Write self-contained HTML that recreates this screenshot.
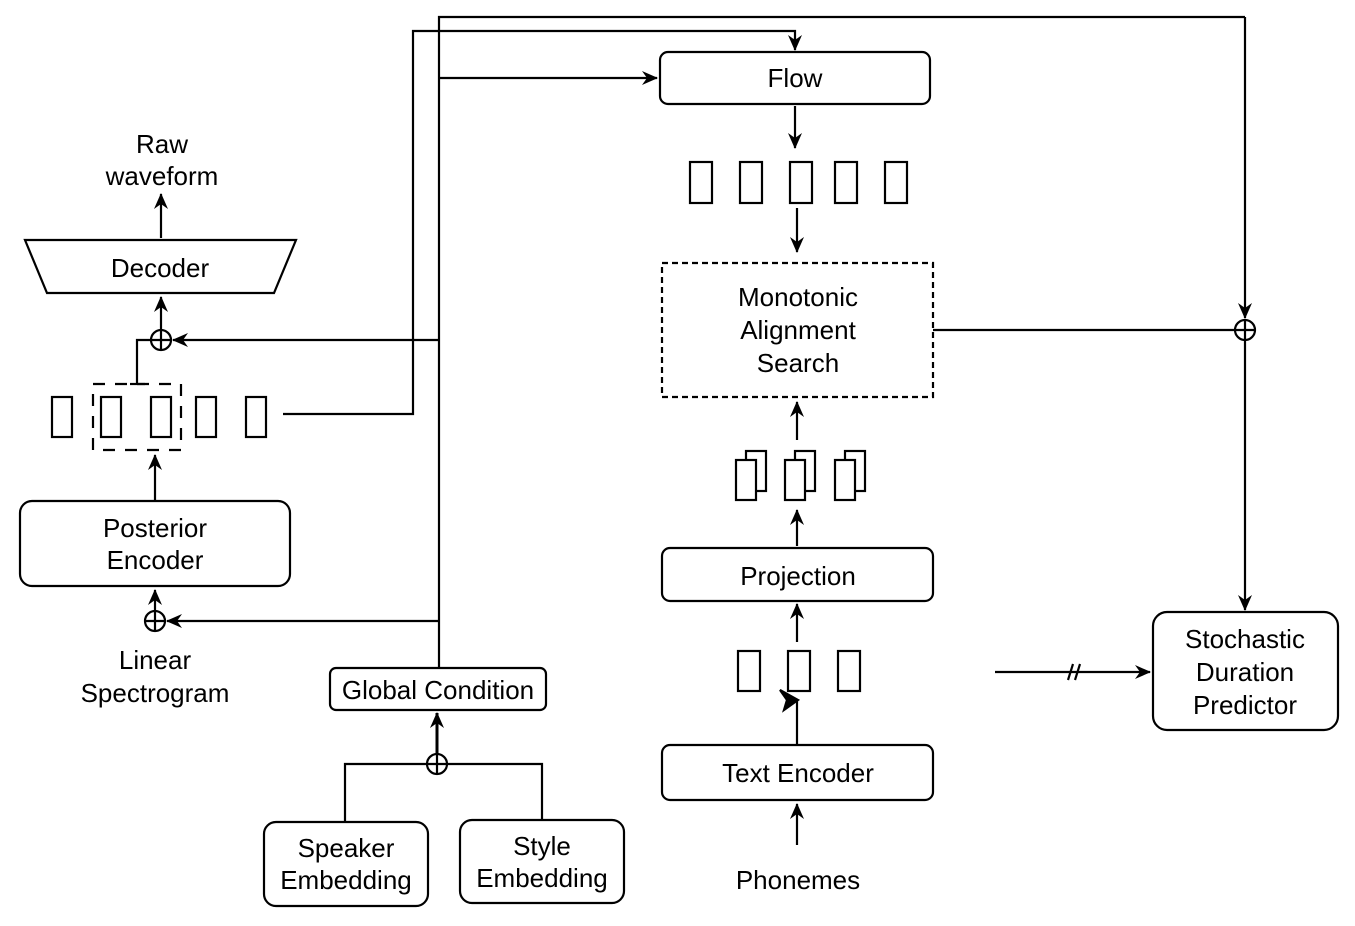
<!DOCTYPE html>
<html><head><style>
body{margin:0;background:#fff;}
svg text{font-family:"Liberation Sans",Arial,sans-serif;font-size:26px;fill:#000;text-anchor:middle;}
</style></head><body>
<svg width="1355" height="921" viewBox="0 0 1355 921" xmlns="http://www.w3.org/2000/svg">
<defs>
<marker id="a" markerWidth="18" markerHeight="16" refX="15" refY="7" orient="auto" markerUnits="userSpaceOnUse">
<path d="M0,0 L16,7 L0,14 L5,7 Z" fill="#000"/>
</marker>
</defs>
<g stroke="#000" stroke-width="2.2" fill="none">
<rect x="660" y="52" width="270" height="52" rx="8"/>
<line x1="795" y1="106" x2="795" y2="148" marker-end="url(#a)"/>
<g>
<rect x="690" y="162" width="22" height="41"/><rect x="740" y="162" width="22" height="41"/>
<rect x="790" y="162" width="22" height="41"/><rect x="835" y="162" width="22" height="41"/>
<rect x="885" y="162" width="22" height="41"/>
</g>
<line x1="797" y1="208" x2="797" y2="252" marker-end="url(#a)"/>
<rect x="662" y="263" width="271" height="134" stroke-dasharray="6,4"/>
<line x1="797" y1="440" x2="797" y2="402" marker-end="url(#a)"/>
<rect x="746" y="451" width="20" height="40" fill="#fff"/><rect x="736" y="460" width="20" height="40" fill="#fff"/>
<rect x="795" y="451" width="20" height="40" fill="#fff"/><rect x="785" y="460" width="20" height="40" fill="#fff"/>
<rect x="845" y="451" width="20" height="40" fill="#fff"/><rect x="835" y="460" width="20" height="40" fill="#fff"/>
<line x1="797" y1="546" x2="797" y2="510" marker-end="url(#a)"/>
<rect x="662" y="548" width="271" height="53" rx="8"/>
<line x1="797" y1="642" x2="797" y2="604" marker-end="url(#a)"/>
<rect x="738" y="651" width="22" height="40"/><rect x="788" y="651" width="22" height="40"/><rect x="838" y="651" width="22" height="40"/>
<line x1="797" y1="744" x2="797" y2="700"/>
<path d="M780,690 L798,700 L784,710 L787,700 Z" fill="#000"/>
<rect x="662" y="745" width="271" height="55" rx="8"/>
<line x1="797" y1="845" x2="797" y2="804" marker-end="url(#a)"/>
<line x1="933" y1="330" x2="1235" y2="330"/>
<circle cx="1245" cy="330" r="10"/>
<line x1="1235" y1="330" x2="1255" y2="330"/>
<line x1="1245" y1="17" x2="1245" y2="318" marker-end="url(#a)"/>
<line x1="1245" y1="320" x2="1245" y2="610" marker-end="url(#a)"/>
<rect x="1153" y="612" width="185" height="118" rx="14"/>
<line x1="995" y1="672" x2="1150" y2="672" marker-end="url(#a)"/>
<line x1="1068" y1="680" x2="1073" y2="664"/><line x1="1075" y1="680" x2="1080" y2="664"/>
<rect x="330" y="668" width="216" height="42" rx="6"/>
<polyline points="439,668 439,17 1245,17"/>
<line x1="439" y1="78" x2="657" y2="78" marker-end="url(#a)"/>
<line x1="439" y1="340" x2="173" y2="340" marker-end="url(#a)"/>
<line x1="439" y1="621" x2="167" y2="621" marker-end="url(#a)"/>
<polyline points="283,414 413,414 413,31 795,31 795,40"/>
<line x1="795" y1="38" x2="795" y2="50" marker-end="url(#a)"/>
<circle cx="437" cy="764" r="10"/>
<line x1="427" y1="764" x2="447" y2="764"/><line x1="437" y1="754" x2="437" y2="774"/>
<polyline points="345,822 345,764 427,764"/>
<polyline points="542,820 542,764 447,764"/>
<line x1="437" y1="754" x2="437" y2="713" stroke-width="3" marker-end="url(#a)"/>
<rect x="264" y="822" width="164" height="84" rx="12"/>
<rect x="460" y="820" width="164" height="83" rx="12"/>
<line x1="161" y1="238" x2="161" y2="194" marker-end="url(#a)"/>
<polygon points="25,240 296,240 274,293 47,293"/>
<line x1="161" y1="330" x2="161" y2="297" marker-end="url(#a)"/>
<circle cx="161" cy="340" r="10"/>
<line x1="151" y1="340" x2="171" y2="340"/><line x1="161" y1="330" x2="161" y2="350"/>
<polyline points="151,340 137,340 137,384"/>
<line x1="130" y1="384" x2="145" y2="384"/>
<rect x="93" y="384" width="88" height="66" stroke-dasharray="12,10"/>
<rect x="52" y="397" width="20" height="40"/><rect x="101" y="397" width="20" height="40"/>
<rect x="151" y="397" width="20" height="40"/><rect x="196" y="397" width="20" height="40"/>
<rect x="246" y="397" width="20" height="40"/>
<line x1="155" y1="500" x2="155" y2="455" marker-end="url(#a)"/>
<rect x="20" y="501" width="270" height="85" rx="12"/>
<circle cx="155" cy="621" r="10"/>
<line x1="145" y1="621" x2="165" y2="621"/><line x1="155" y1="611" x2="155" y2="631"/>
<line x1="155" y1="611" x2="155" y2="590" marker-end="url(#a)"/>
</g>
<text x="795" y="87">Flow</text>
<text x="798" y="306">Monotonic</text>
<text x="798" y="339">Alignment</text>
<text x="798" y="372">Search</text>
<text x="798" y="585">Projection</text>
<text x="798" y="782">Text Encoder</text>
<text x="798" y="889">Phonemes</text>
<text x="1245" y="648">Stochastic</text>
<text x="1245" y="681">Duration</text>
<text x="1245" y="714">Predictor</text>
<text x="438" y="699">Global Condition</text>
<text x="346" y="857">Speaker</text>
<text x="346" y="889">Embedding</text>
<text x="542" y="855">Style</text>
<text x="542" y="887">Embedding</text>
<text x="162" y="153">Raw</text>
<text x="162" y="185">waveform</text>
<text x="160" y="277">Decoder</text>
<text x="155" y="537">Posterior</text>
<text x="155" y="569">Encoder</text>
<text x="155" y="669">Linear</text>
<text x="155" y="702">Spectrogram</text>
</svg>
</body></html>
